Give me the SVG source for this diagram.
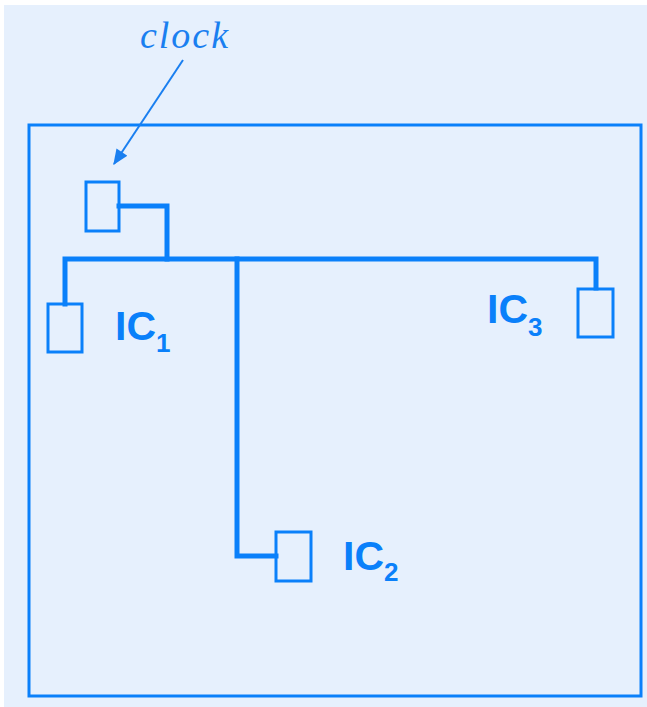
<svg xmlns="http://www.w3.org/2000/svg" width="647" height="707" viewBox="0 0 647 707">
<defs>
<style>
.box{fill:none;stroke:#0a80fa;stroke-width:3}
.wire{fill:none;stroke:#0a80fa;stroke-width:5;stroke-linejoin:miter;stroke-linecap:square}
.lbl{font-family:"Liberation Sans",Arial,sans-serif;font-weight:bold;fill:#0a80fa}
.sub{font-family:"Liberation Sans",Arial,sans-serif;font-weight:bold;fill:#0a80fa;font-size:26px}
</style>
<marker id="ah2" viewBox="0 0 12 10" refX="11" refY="5" markerWidth="17" markerHeight="13" markerUnits="userSpaceOnUse" orient="auto">
<path d="M0,0 L12,5 L0,10 z" fill="#1a7ff0"/>
</marker>
</defs>
<rect x="0" y="0" width="647" height="707" fill="#ffffff"/>
<rect x="4" y="5" width="643" height="702" fill="#e6f0fd"/>
<g id="board"><rect x="29" y="125" width="612" height="571" class="box"/></g>
<g id="connectors">
<path class="wire" d="M119,206 H167 V259"/>
<path class="wire" d="M65,304 V259 H596 V288"/>
<path class="wire" d="M237,259 V556 H276"/>
<line x1="183" y1="60" x2="114" y2="164" stroke="#1a7ff0" stroke-width="2" marker-end="url(#ah2)"/>
</g>
<g id="clock">
<rect x="86" y="182" width="33" height="49" class="box"/>
<text x="185" y="48" font-family="'Liberation Serif','Times New Roman',serif" font-style="italic" font-size="38" fill="#1a7ff0" text-anchor="middle" letter-spacing="2">clock</text>
</g>
<g id="ic1">
<rect x="48" y="304" width="34" height="48" class="box"/>
<text x="115" y="340" class="lbl" font-size="41">IC<tspan class="sub" dy="12">1</tspan></text>
</g>
<g id="ic2">
<rect x="276" y="532" width="35" height="49" class="box"/>
<text x="343" y="570" class="lbl" font-size="41">IC<tspan class="sub" dy="11">2</tspan></text>
</g>
<g id="ic3">
<rect x="578" y="289" width="35" height="48" class="box"/>
<text x="487" y="323" class="lbl" font-size="41">IC<tspan class="sub" dy="13">3</tspan></text>
</g>
</svg>
